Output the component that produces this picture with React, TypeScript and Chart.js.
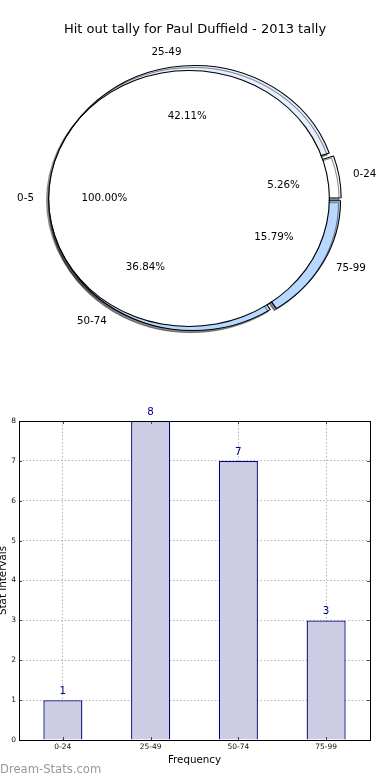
import React, { useEffect, useRef } from 'react';
import { Chart, registerables } from 'chart.js';

Chart.register(...registerables);

// ---------- data ----------
const chartTitle = 'Hit out tally for Paul Duffield - 2013 tally';
const ringLabels = ['0-24', '25-49', '50-74', '75-99'];
const ringValues = [1, 8, 7, 3];
const ringColors = ['#ffffff', '#e6efff', '#b9d8ff', '#b9d8ff'];
const ringExplode = [12, 12, 13, 17];
const coreLabels = ['0-5'];
const coreValues = [1];
const barCategories = ['0-24', '25-49', '50-74', '75-99'];
const barValues = [1, 8, 7, 3];
const yAxisTitle = 'Stat Intervals';
const xAxisTitle = 'Frequency';
const watermark = 'Dream-Stats.com';

// ---------- layout ----------
const FONT = "'DejaVu Sans', sans-serif";
const PIE_W = 390;
const PIE_H = 397;
const CX = 189;
const CY = 198.5;
const R = 128.5;
const SX = 1.097;
const RING_DX = 5.7;
const LABEL_EXPLODE = 5;

function ellipsePlugin(shadow: boolean) {
  return {
    id: 'ellipse',
    beforeDatasetsDraw(chart: any) {
      const { ctx, chartArea: a } = chart;
      const cx = (a.left + a.right) / 2;
      const cy = (a.top + a.bottom) / 2;
      ctx.save();
      ctx.translate(cx, cy);
      ctx.scale(SX, 1);
      ctx.translate(-cx, -cy);
      if (shadow) {
        ctx.shadowColor = 'rgba(0,0,0,0.45)';
        ctx.shadowOffsetX = -2;
        ctx.shadowOffsetY = 2;
        ctx.shadowBlur = 0;
      }
    },
    afterDatasetsDraw(chart: any) {
      chart.ctx.restore();
    },
  };
}

const pieLabelPlugin = {
  id: 'pieLabels',
  afterDraw(chart: any) {
    const ctx = chart.ctx;
    ctx.save();
    ctx.fillStyle = '#000';
    ctx.textBaseline = 'middle';
    ctx.font = `13px ${FONT}`;
    ctx.textAlign = 'center';
    ctx.fillText(chartTitle, 195, 30);
    ctx.font = `10.3px ${FONT}`;
    const total = ringValues.reduce((a, b) => a + b, 0);
    let cum = 0;
    ringValues.forEach((v, i) => {
      const frac = v / total;
      const theta = (cum + frac / 2) * 2 * Math.PI;
      cum += frac;
      const c = Math.cos(theta);
      const s = Math.sin(theta);
      const ox = CX + RING_DX + SX * LABEL_EXPLODE * c;
      const oy = CY - LABEL_EXPLODE * s;
      ctx.textAlign = c > 0 ? 'left' : 'right';
      ctx.fillText(ringLabels[i], ox + SX * 1.1 * R * c, oy - 1.1 * R * s);
      ctx.textAlign = 'center';
      ctx.fillText((frac * 100).toFixed(2) + '%', ox + SX * 0.6 * R * c, oy - 0.6 * R * s);
    });
    const coreTotal = coreValues.reduce((a, b) => a + b, 0);
    cum = 0;
    coreValues.forEach((v, i) => {
      const frac = v / coreTotal;
      // a single full wedge: its label sits at 180 degrees
      const theta = frac >= 1 ? Math.PI : (cum + frac / 2) * 2 * Math.PI;
      cum += frac;
      const c = Math.cos(theta);
      const s = Math.sin(theta);
      ctx.textAlign = c > 0 ? 'left' : 'right';
      ctx.fillText(coreLabels[i], CX + SX * 1.1 * R * c, CY - 1.1 * R * s);
      ctx.textAlign = 'center';
      ctx.fillText((frac * 100).toFixed(2) + '%', CX + SX * 0.6 * R * c, CY - 0.6 * R * s);
    });
    ctx.restore();
  },
};

const rev = <T,>(a: T[]) => [...a].reverse();

function pieConfig(opts: {
  datasets: any[];
  labels: string[];
  pad: { left: number; right: number; top: number; bottom: number };
  plugins: any[];
}) {
  return {
    type: 'pie' as const,
    data: { labels: opts.labels, datasets: opts.datasets },
    options: {
      animation: false as const,
      responsive: false,
      events: [],
      radius: R,
      rotation: 90,
      layout: { padding: opts.pad },
      plugins: { legend: { display: false }, tooltip: { enabled: false }, title: { display: false } },
    },
    plugins: opts.plugins,
  };
}

export default function App() {
  const shadowRef = useRef<HTMLCanvasElement>(null);
  const ringRef = useRef<HTMLCanvasElement>(null);
  const coreRef = useRef<HTMLCanvasElement>(null);
  const barRef = useRef<HTMLCanvasElement>(null);

  useEffect(() => {
    Chart.defaults.font.family = FONT;
    const charts: Chart[] = [];

    // shadow of the full inner pie (beneath everything)
    charts.push(
      new Chart(
        shadowRef.current!,
        pieConfig({
          labels: coreLabels,
          datasets: [{ data: coreValues, backgroundColor: 'rgba(0,0,0,0.45)', borderWidth: 0, clip: false }],
          pad: { left: 0, right: PIE_W - 2 * (CX - 2), top: 4, bottom: 0 },
          plugins: [ellipsePlugin(false)],
        }) as any
      )
    );

    // outer exploded ring pie (counter-clockwise from east => reversed order, rotation 90)
    charts.push(
      new Chart(
        ringRef.current!,
        pieConfig({
          labels: rev(ringLabels),
          datasets: [
            {
              data: rev(ringValues),
              backgroundColor: rev(ringColors),
              borderColor: '#000',
              borderWidth: 1,
              offset: rev(ringExplode),
              clip: false,
            },
          ],
          pad: { left: 0, right: PIE_W - 2 * (CX + RING_DX), top: 0, bottom: 0 },
          plugins: [ellipsePlugin(true)],
        }) as any
      )
    );

    // inner full pie: thin black rim (outline) + white body, plus all pie texts
    charts.push(
      new Chart(
        coreRef.current!,
        pieConfig({
          labels: coreLabels,
          datasets: [
            { data: coreValues, backgroundColor: '#000000', borderWidth: 0, weight: 1, clip: false },
            { data: coreValues, backgroundColor: '#ffffff', borderWidth: 0, weight: 125, clip: false },
          ],
          pad: { left: 0, right: PIE_W - 2 * CX, top: 0, bottom: 0 },
          plugins: [ellipsePlugin(false), pieLabelPlugin],
        }) as any
      )
    );

    const gridColor = '#b4b4b4';
    const barExtras = {
      id: 'barExtras',
      afterDraw(chart: any) {
        const { ctx, chartArea: a } = chart;
        const meta = chart.getDatasetMeta(0);
        ctx.save();
        // value labels
        ctx.fillStyle = '#000080';
        ctx.font = `10.3px ${FONT}`;
        ctx.textAlign = 'center';
        ctx.textBaseline = 'middle';
        meta.data.forEach((bar: any, i: number) => {
          ctx.fillText(String(barValues[i]), bar.x, bar.y - 9);
        });
        // inside tick marks
        ctx.strokeStyle = '#444';
        ctx.lineWidth = 1;
        const ys = chart.scales.y;
        ys.ticks.forEach((_t: any, i: number) => {
          const y = Math.round(ys.getPixelForTick(i)) + 0.5;
          ctx.beginPath();
          ctx.moveTo(a.left, y);
          ctx.lineTo(a.left + 3, y);
          ctx.moveTo(a.right, y);
          ctx.lineTo(a.right - 3, y);
          ctx.stroke();
        });
        const xs = chart.scales.x;
        xs.ticks.forEach((_t: any, i: number) => {
          const x = Math.round(xs.getPixelForTick(i)) + 0.5;
          ctx.beginPath();
          ctx.moveTo(x, a.bottom);
          ctx.lineTo(x, a.bottom - 3);
          ctx.moveTo(x, a.top);
          ctx.lineTo(x, a.top + 3);
          ctx.stroke();
        });
        // frame
        ctx.strokeStyle = '#000';
        ctx.lineWidth = 1;
        ctx.strokeRect(
          Math.round(a.left) + 0.5,
          Math.round(a.top) + 0.5,
          Math.round(a.right - a.left),
          Math.round(a.bottom - a.top)
        );
        // watermark
        ctx.fillStyle = '#999999';
        ctx.font = `11.6px ${FONT}`;
        ctx.textAlign = 'left';
        ctx.fillText(watermark, 0, 370);
        ctx.restore();
      },
    };

    charts.push(
      new Chart(barRef.current!, {
        type: 'bar',
        data: {
          labels: barCategories,
          datasets: [
            {
              data: barValues,
              backgroundColor: '#ccccE4',
              borderColor: '#000080',
              borderWidth: 1.3,
              barPercentage: 0.445,
              categoryPercentage: 1,
            },
          ],
        },
        options: {
          animation: false,
          responsive: false,
          events: [],
          layout: { padding: { top: 21, right: 20, left: 0, bottom: 0 } },
          plugins: { legend: { display: false }, tooltip: { enabled: false } },
          scales: {
            x: {
              z: 1,
              grid: { offset: false, drawTicks: false, color: gridColor, lineWidth: 1 },
              border: { display: false, dash: [1.5, 2] },
              ticks: { font: { size: 7.5 }, padding: 3, color: '#111', maxRotation: 0 },
              title: {
                display: true,
                text: xAxisTitle,
                color: '#000',
                font: { size: 10.3 },
                padding: { top: 0, bottom: 13.8 },
              },
              afterFit: (s: any) => {
                s.height = 40;
              },
            },
            y: {
              z: 1,
              min: 0,
              max: 8,
              grid: { drawTicks: false, color: gridColor, lineWidth: 1 },
              border: { display: false, dash: [1.5, 2] },
              ticks: { stepSize: 1, font: { size: 7.5 }, padding: 3, color: '#111' },
              title: {
                display: true,
                text: yAxisTitle,
                color: '#000',
                font: { size: 10.3, lineHeight: 0.6 },
                padding: 0,
              },
              afterFit: (s: any) => {
                s.width = 19;
              },
            },
          },
        },
        plugins: [barExtras],
      } as any)
    );

    return () => charts.forEach((c) => c.destroy());
  }, []);

  const layer: React.CSSProperties = { position: 'absolute', left: 0, top: 0 };
  return (
    <div style={{ position: 'fixed', left: 0, top: 0, width: 390, height: 780, background: '#fff' }}>
      <canvas ref={shadowRef} width={PIE_W} height={PIE_H} style={{ ...layer, width: PIE_W, height: PIE_H }} />
      <canvas ref={ringRef} width={PIE_W} height={PIE_H} style={{ ...layer, width: PIE_W, height: PIE_H }} />
      <canvas ref={coreRef} width={PIE_W} height={PIE_H} style={{ ...layer, width: PIE_W, height: PIE_H }} />
      <canvas ref={barRef} width={390} height={380} style={{ ...layer, top: 400, width: 390, height: 380 }} />
    </div>
  );
}
